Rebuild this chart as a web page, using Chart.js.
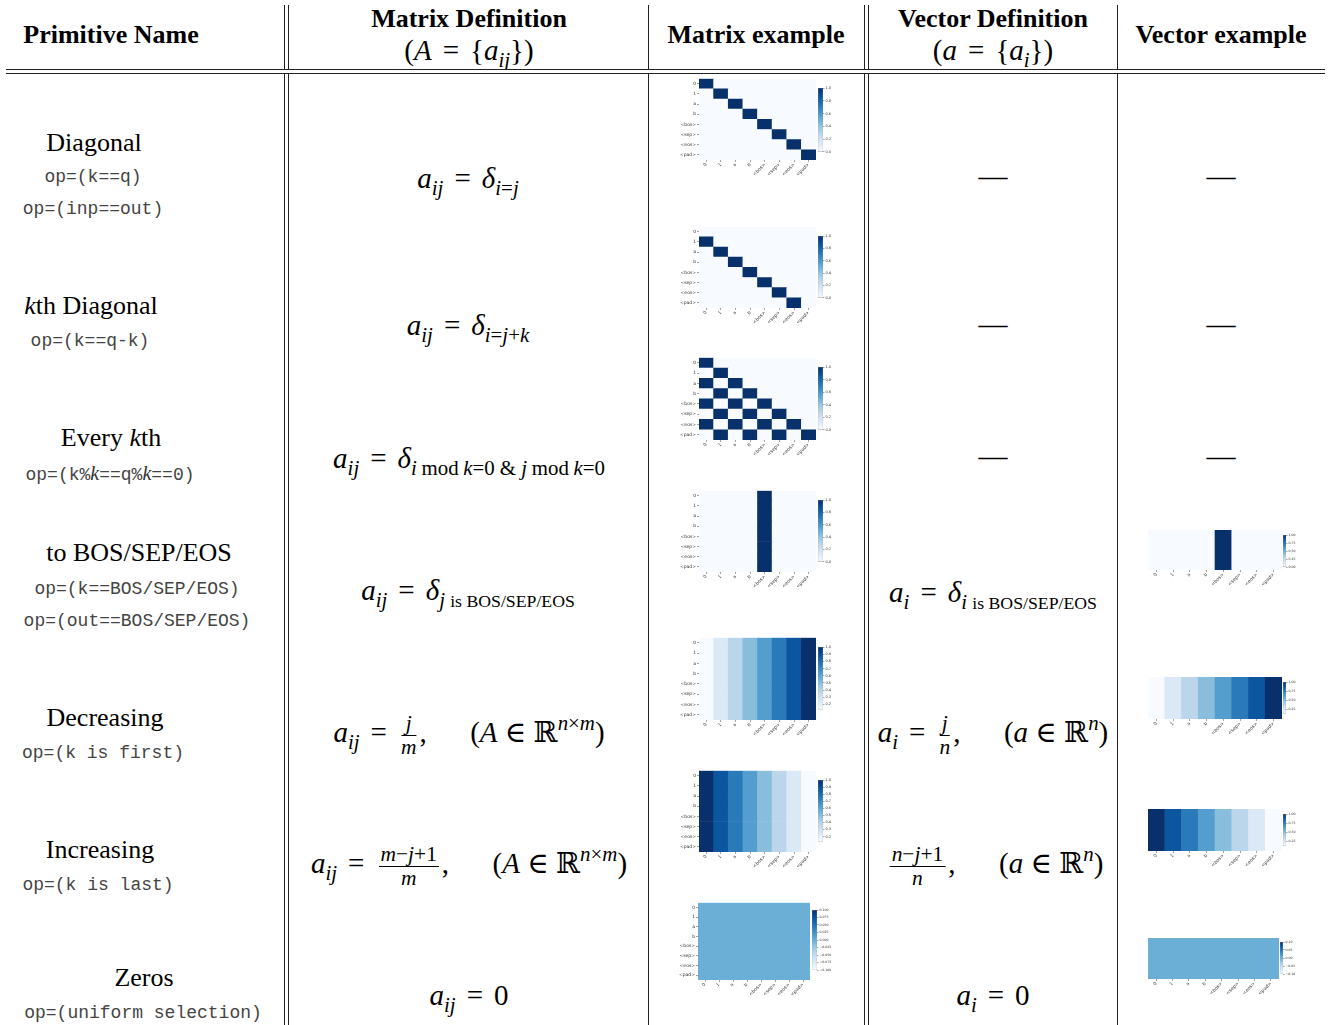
<!DOCTYPE html>
<html>
<head>
<meta charset="utf-8">
<script src="https://cdn.jsdelivr.net/npm/chart.js@4.4.0/dist/chart.umd.min.js"></script>
<style>
  body { margin: 0; width: 1330px; height: 1025px; position: relative; background: #fff; overflow: hidden;
         font-family: "Liberation Serif", "DejaVu Serif", serif; color: #000; }
  .c { position: absolute; transform: translate(-50%, -50%); white-space: nowrap; }
  .hd { font-weight: bold; font-size: 26px; }
  .nm { font-size: 26px; }
  .op { font-family: "Liberation Mono", "DejaVu Sans Mono", monospace; font-size: 18px; color: #444; }
  .op i { font-family: "Liberation Serif", serif; font-size: 20px; color: #333; }
  .m { font-size: 29px; }
  .m i { font-style: italic; }
  .m sub, .m sup { font-size: 0.72em; line-height: 0; }
  .m sub { vertical-align: -0.35em; }
  .m sup { vertical-align: 0.55em; }
  .m sub .s { font-size: 0.85em; }
  .eq { margin: 0 0.38em; }
  .md { margin: 0 0.22em; }
  .frac { display: inline-flex; flex-direction: column; vertical-align: middle; text-align: center;
          font-size: 0.74em; line-height: 1.05; margin: 0 3px; }
  .frac span:first-child { border-bottom: 1px solid #000; padding: 0 2px; }
  .vl { position: absolute; top: 5px; bottom: 0; width: 1px; background: #222; }
  .hl { position: absolute; left: 6px; width: 1319px; top: 69px; height: 3px; background: #fff;
        border-top: 1px solid #222; border-bottom: 1px solid #222; z-index: 2; }
  canvas { position: absolute; }
</style>
</head>
<body>

<div class="vl" style="left:284px"></div>
<div class="vl" style="left:288px"></div>
<div class="vl" style="left:648px"></div>
<div class="vl" style="left:864px"></div>
<div class="vl" style="left:868px"></div>
<div class="vl" style="left:1117px"></div>
<div class="hl"></div>

<!-- header -->
<div class="c hd" style="left:111px;top:35px">Primitive Name</div>
<div class="c hd" style="left:469px;top:19px">Matrix Definition</div>
<div class="c m" style="left:469px;top:50px">(<i>A</i><span class="eq">=</span>{<i>a</i><sub><i>ij</i></sub>})</div>
<div class="c hd" style="left:756px;top:35px">Matrix example</div>
<div class="c hd" style="left:993px;top:19px">Vector Definition</div>
<div class="c m" style="left:993px;top:50px">(<i>a</i><span class="eq">=</span>{<i>a</i><sub><i>i</i></sub>})</div>
<div class="c hd" style="left:1221px;top:35px">Vector example</div>

<!-- primitive names -->
<div class="c nm" style="left:94px;top:143px">Diagonal</div>
<div class="c op" style="left:93px;top:177px">op=(k==q)</div>
<div class="c op" style="left:93px;top:209px">op=(inp==out)</div>

<div class="c nm" style="left:91px;top:306px"><i>k</i>th Diagonal</div>
<div class="c op" style="left:90px;top:341px">op=(k==q-k)</div>

<div class="c nm" style="left:111px;top:438px">Every <i>k</i>th</div>
<div class="c op" style="left:110px;top:473px">op=(k%<i>k</i>==q%<i>k</i>==0)</div>

<div class="c nm" style="left:139px;top:553px">to BOS/SEP/EOS</div>
<div class="c op" style="left:137px;top:589px">op=(k==BOS/SEP/EOS)</div>
<div class="c op" style="left:137px;top:621px">op=(out==BOS/SEP/EOS)</div>

<div class="c nm" style="left:105px;top:718px">Decreasing</div>
<div class="c op" style="left:103px;top:753px">op=(k is first)</div>

<div class="c nm" style="left:100px;top:850px">Increasing</div>
<div class="c op" style="left:98px;top:885px">op=(k is last)</div>

<div class="c nm" style="left:144px;top:978px">Zeros</div>
<div class="c op" style="left:143px;top:1013px">op=(uniform selection)</div>

<!-- matrix definitions -->
<div class="c m" style="left:468px;top:178px"><i>a</i><sub><i>ij</i></sub><span class="eq">=</span><i>δ</i><sub><i>i</i>=<i>j</i></sub></div>
<div class="c m" style="left:468px;top:325px"><i>a</i><sub><i>ij</i></sub><span class="eq">=</span><i>δ</i><sub><i>i</i>=<i>j</i>+<i>k</i></sub></div>
<div class="c m" style="left:469px;top:458px"><i>a</i><sub><i>ij</i></sub><span class="eq">=</span><i>δ</i><sub><i>i</i><span class="md">mod</span><i>k</i>=0 &amp; <i>j</i><span class="md">mod</span><i>k</i>=0</sub></div>
<div class="c m" style="left:468px;top:590px"><i>a</i><sub><i>ij</i></sub><span class="eq">=</span><i>δ</i><sub><i>j</i> <span class="s">is BOS/SEP/EOS</span></sub></div>
<div class="c m" style="left:469px;top:735px"><i>a</i><sub><i>ij</i></sub><span class="eq">=</span><span class="frac"><span><i>j</i></span><span><i>m</i></span></span>,&emsp;&ensp;(<i>A</i> ∈ ℝ<sup><i>n</i>×<i>m</i></sup>)</div>
<div class="c m" style="left:469px;top:866px"><i>a</i><sub><i>ij</i></sub><span class="eq">=</span><span class="frac"><span><i>m</i>−<i>j</i>+1</span><span><i>m</i></span></span>,&emsp;&ensp;(<i>A</i> ∈ ℝ<sup><i>n</i>×<i>m</i></sup>)</div>
<div class="c m" style="left:469px;top:995px"><i>a</i><sub><i>ij</i></sub><span class="eq">=</span>0</div>

<!-- vector definitions -->
<div class="c m" style="left:993px;top:176px">—</div>
<div class="c m" style="left:993px;top:324px">—</div>
<div class="c m" style="left:993px;top:456px">—</div>
<div class="c m" style="left:993px;top:592px"><i>a</i><sub><i>i</i></sub><span class="eq">=</span><i>δ</i><sub><i>i</i> <span class="s">is BOS/SEP/EOS</span></sub></div>
<div class="c m" style="left:993px;top:735px"><i>a</i><sub><i>i</i></sub><span class="eq">=</span><span class="frac"><span><i>j</i></span><span><i>n</i></span></span>,&emsp;&ensp;(<i>a</i> ∈ ℝ<sup><i>n</i></sup>)</div>
<div class="c m" style="left:995px;top:866px"><span class="frac"><span><i>n</i>−<i>j</i>+1</span><span><i>n</i></span></span>,&emsp;&ensp;(<i>a</i> ∈ ℝ<sup><i>n</i></sup>)</div>
<div class="c m" style="left:993px;top:995px"><i>a</i><sub><i>i</i></sub><span class="eq">=</span>0</div>

<div class="c m" style="left:1221px;top:176px">—</div>
<div class="c m" style="left:1221px;top:324px">—</div>
<div class="c m" style="left:1221px;top:456px">—</div>

<script>
const tokens = ['0', '1', 'a', 'b', '<bos>', '<sep>', '<eos>', '<pad>'];

const diagMatrix = [
  [1,0,0,0,0,0,0,0],
  [0,1,0,0,0,0,0,0],
  [0,0,1,0,0,0,0,0],
  [0,0,0,1,0,0,0,0],
  [0,0,0,0,1,0,0,0],
  [0,0,0,0,0,1,0,0],
  [0,0,0,0,0,0,1,0],
  [0,0,0,0,0,0,0,1]
];
const kthMatrix = [
  [0,0,0,0,0,0,0,0],
  [1,0,0,0,0,0,0,0],
  [0,1,0,0,0,0,0,0],
  [0,0,1,0,0,0,0,0],
  [0,0,0,1,0,0,0,0],
  [0,0,0,0,1,0,0,0],
  [0,0,0,0,0,1,0,0],
  [0,0,0,0,0,0,1,0]
];
const everyMatrix = [
  [1,0,0,0,0,0,0,0],
  [0,1,0,0,0,0,0,0],
  [1,0,1,0,0,0,0,0],
  [0,1,0,1,0,0,0,0],
  [1,0,1,0,1,0,0,0],
  [0,1,0,1,0,1,0,0],
  [1,0,1,0,1,0,1,0],
  [0,1,0,1,0,1,0,1]
];
const bosMatrix = [
  [0,0,0,0,1,0,0,0],
  [0,0,0,0,1,0,0,0],
  [0,0,0,0,1,0,0,0],
  [0,0,0,0,1,0,0,0],
  [0,0,0,0,1,0,0,0],
  [0,0,0,0,1,0,0,0],
  [0,0,0,0,1,0,0,0],
  [0,0,0,0,1,0,0,0]
];
const decRow = [0.125, 0.25, 0.375, 0.5, 0.625, 0.75, 0.875, 1];
const incRow = [1, 0.875, 0.75, 0.625, 0.5, 0.375, 0.25, 0.125];
const decMatrix = [decRow, decRow, decRow, decRow, decRow, decRow, decRow, decRow];
const incMatrix = [incRow, incRow, incRow, incRow, incRow, incRow, incRow, incRow];
const zeroMatrix = [
  [0,0,0,0,0,0,0,0],
  [0,0,0,0,0,0,0,0],
  [0,0,0,0,0,0,0,0],
  [0,0,0,0,0,0,0,0],
  [0,0,0,0,0,0,0,0],
  [0,0,0,0,0,0,0,0],
  [0,0,0,0,0,0,0,0],
  [0,0,0,0,0,0,0,0]
];

const bosVector = [0, 0, 0, 0, 1, 0, 0, 0];
const decVector = [0.125, 0.25, 0.375, 0.5, 0.625, 0.75, 0.875, 1];
const incVector = [1, 0.875, 0.75, 0.625, 0.5, 0.375, 0.25, 0.125];
const zeroVector = [0, 0, 0, 0, 0, 0, 0, 0];

// colorbar tick labels
const ticksUnit = ['0.0', '0.2', '0.4', '0.6', '0.8', '1.0'];
const ticksDec = ['0.2', '0.3', '0.4', '0.5', '0.6', '0.7', '0.8', '0.9', '1.0'];
const ticksZero = ['−0.100', '−0.075', '−0.050', '−0.025', '0.000', '0.025', '0.050', '0.075', '0.100'];
const ticksVecUnit = ['0.00', '0.25', '0.50', '0.75', '1.00'];
const ticksVecDec = ['0.25', '0.50', '0.75', '1.00'];
const ticksVecZero = ['−0.10', '−0.05', '0.00', '0.05', '0.10'];

const bluesStops = ['#f7fbff', '#deebf7', '#c6dbef', '#9ecae1', '#6baed6', '#4292c6', '#2171b5', '#08519c', '#08306b'];

function hexRgb(h) {
  return [parseInt(h.slice(1, 3), 16), parseInt(h.slice(3, 5), 16), parseInt(h.slice(5, 7), 16)];
}
function blues(t) {
  t = Math.max(0, Math.min(1, t));
  let p = t * (bluesStops.length - 1);
  let i = Math.min(Math.floor(p), bluesStops.length - 2);
  let f = p - i;
  let a = hexRgb(bluesStops[i]), b = hexRgb(bluesStops[i + 1]);
  let c = a.map((v, k) => Math.round(v + (b[k] - v) * f));
  return 'rgb(' + c.join(',') + ')';
}

Chart.defaults.font.family = '"DejaVu Sans", sans-serif';
Chart.defaults.color = '#333';
Chart.defaults.animation = false;
Chart.defaults.plugins.legend.display = false;
Chart.defaults.plugins.tooltip.enabled = false;

function makeCanvas(x, y, w, h) {
  let cv = document.createElement('canvas');
  cv.width = w; cv.height = h;
  cv.style.left = x + 'px'; cv.style.top = y + 'px';
  cv.style.width = w + 'px'; cv.style.height = h + 'px';
  document.body.appendChild(cv);
  return cv;
}

// heatmap drawn as stacked bars, one dataset per row (bottom row first)
function heatmap(rect, matrix, vmin, vmax, showY) {
  let padL = showY ? 24 : 6, padR = 3, padT = 3, padB = 19;
  let cv = makeCanvas(rect.x - padL, rect.y - padT, rect.w + padL + padR, rect.h + padT + padB);
  let n = matrix.length;
  let rowLabels = n === 1 ? [''] : tokens;
  let datasets = matrix.slice().reverse().map(row => ({
    data: row.map(() => 1),
    backgroundColor: row.map(v => blues(vmax === vmin ? 0.5 : (v - vmin) / (vmax - vmin))),
    borderWidth: 0,
    barPercentage: 1,
    categoryPercentage: 1
  }));
  new Chart(cv, {
    type: 'bar',
    data: { labels: tokens, datasets: datasets },
    options: {
      responsive: false,
      devicePixelRatio: 1,
      layout: { padding: { left: 0, right: padR, top: padT, bottom: 0 } },
      scales: {
        x: {
          stacked: true,
          grid: { display: true, drawOnChartArea: false, offset: false, tickLength: 2, color: '#444', lineWidth: 0.5 },
          border: { display: false },
          ticks: { font: { size: 4.6 }, minRotation: 45, maxRotation: 45, autoSkip: false, padding: 0 },
          afterFit: s => { s.height = padB; }
        },
        y: {
          display: showY,
          stacked: true,
          min: 0, max: n,
          afterBuildTicks: s => { s.ticks = rowLabels.map((t, i) => ({ value: n - i - 0.5 })); },
          grid: { display: true, drawOnChartArea: false, tickLength: 2, color: '#444', lineWidth: 0.5 },
          border: { display: false },
          ticks: { font: { size: 4.5 }, padding: 1, autoSkip: false, callback: (v, i) => rowLabels[i] },
          afterFit: s => { s.width = padL; }
        }
      }
    }
  });
}

function colorbar(rect, vmin, vmax, labels, fontSize) {
  let labW = 20;
  let cv = makeCanvas(rect.x, rect.y - 3, rect.w + labW, rect.h + 6);
  new Chart(cv, {
    type: 'bar',
    data: {
      labels: [''],
      datasets: [{
        data: [[vmin, vmax]],
        backgroundColor: ctx => {
          let a = ctx.chart.chartArea;
          if (!a) return '#6baed6';
          let g = ctx.chart.ctx.createLinearGradient(0, a.bottom, 0, a.top);
          bluesStops.forEach((c, i) => g.addColorStop(i / (bluesStops.length - 1), c));
          return g;
        },
        borderColor: '#999',
        borderWidth: 0.5,
        borderSkipped: false,
        barPercentage: 1,
        categoryPercentage: 1
      }]
    },
    options: {
      responsive: false,
      devicePixelRatio: 1,
      layout: { padding: { left: 0, right: 0, top: 3, bottom: 3 } },
      scales: {
        x: { display: false },
        y: {
          position: 'right',
          min: vmin, max: vmax,
          afterBuildTicks: s => {
            s.ticks = labels.map(l => ({ value: parseFloat(l.replace('−', '-')) }));
          },
          grid: { display: true, drawOnChartArea: false, tickLength: 1.5, color: '#444', lineWidth: 0.5 },
          border: { display: false },
          ticks: { font: { size: fontSize }, padding: 1, autoSkip: false, callback: (v, i) => labels[i] },
          afterFit: s => { s.width = labW; }
        }
      }
    }
  });
}

// matrix examples
heatmap({ x: 699, y: 78, w: 117, h: 82 }, diagMatrix, 0, 1, true);
colorbar({ x: 818, y: 88, w: 5, h: 64 }, 0, 1, ticksUnit, 3.5);

heatmap({ x: 699, y: 226, w: 117, h: 82 }, kthMatrix, 0, 1, true);
colorbar({ x: 818, y: 236, w: 5, h: 62 }, 0, 1, ticksUnit, 3.5);

heatmap({ x: 699, y: 357, w: 117, h: 83 }, everyMatrix, 0, 1, true);
colorbar({ x: 818, y: 367, w: 5, h: 63 }, 0, 1, ticksUnit, 3.5);

heatmap({ x: 699, y: 490, w: 117, h: 82 }, bosMatrix, 0, 1, true);
colorbar({ x: 818, y: 500, w: 5, h: 62 }, 0, 1, ticksUnit, 3.5);

heatmap({ x: 699, y: 637, w: 117, h: 83 }, decMatrix, 0.125, 1, true);
colorbar({ x: 818, y: 647, w: 5, h: 63 }, 0.125, 1, ticksDec, 3.5);

heatmap({ x: 699, y: 770, w: 117, h: 82 }, incMatrix, 0.125, 1, true);
colorbar({ x: 818, y: 780, w: 5, h: 62 }, 0.125, 1, ticksDec, 3.5);

heatmap({ x: 698, y: 902, w: 112, h: 78 }, zeroMatrix, -0.1, 0.1, true);
colorbar({ x: 812, y: 910, w: 5, h: 60 }, -0.1, 0.1, ticksZero, 3.2);

// vector examples
heatmap({ x: 1148, y: 530, w: 134, h: 40 }, [bosVector], 0, 1, false);
colorbar({ x: 1283, y: 535, w: 3, h: 32 }, 0, 1, ticksVecUnit, 3.2);

heatmap({ x: 1148, y: 677, w: 134, h: 42 }, [decVector], 0.125, 1, false);
colorbar({ x: 1283, y: 682, w: 3, h: 32 }, 0.125, 1, ticksVecDec, 3.2);

heatmap({ x: 1148, y: 809, w: 134, h: 42 }, [incVector], 0.125, 1, false);
colorbar({ x: 1283, y: 814, w: 3, h: 32 }, 0.125, 1, ticksVecDec, 3.2);

heatmap({ x: 1148, y: 938, w: 131, h: 41 }, [zeroVector], -0.1, 0.1, false);
colorbar({ x: 1280, y: 942, w: 3, h: 32 }, -0.1, 0.1, ticksVecZero, 3.2);
</script>
</body>
</html>
